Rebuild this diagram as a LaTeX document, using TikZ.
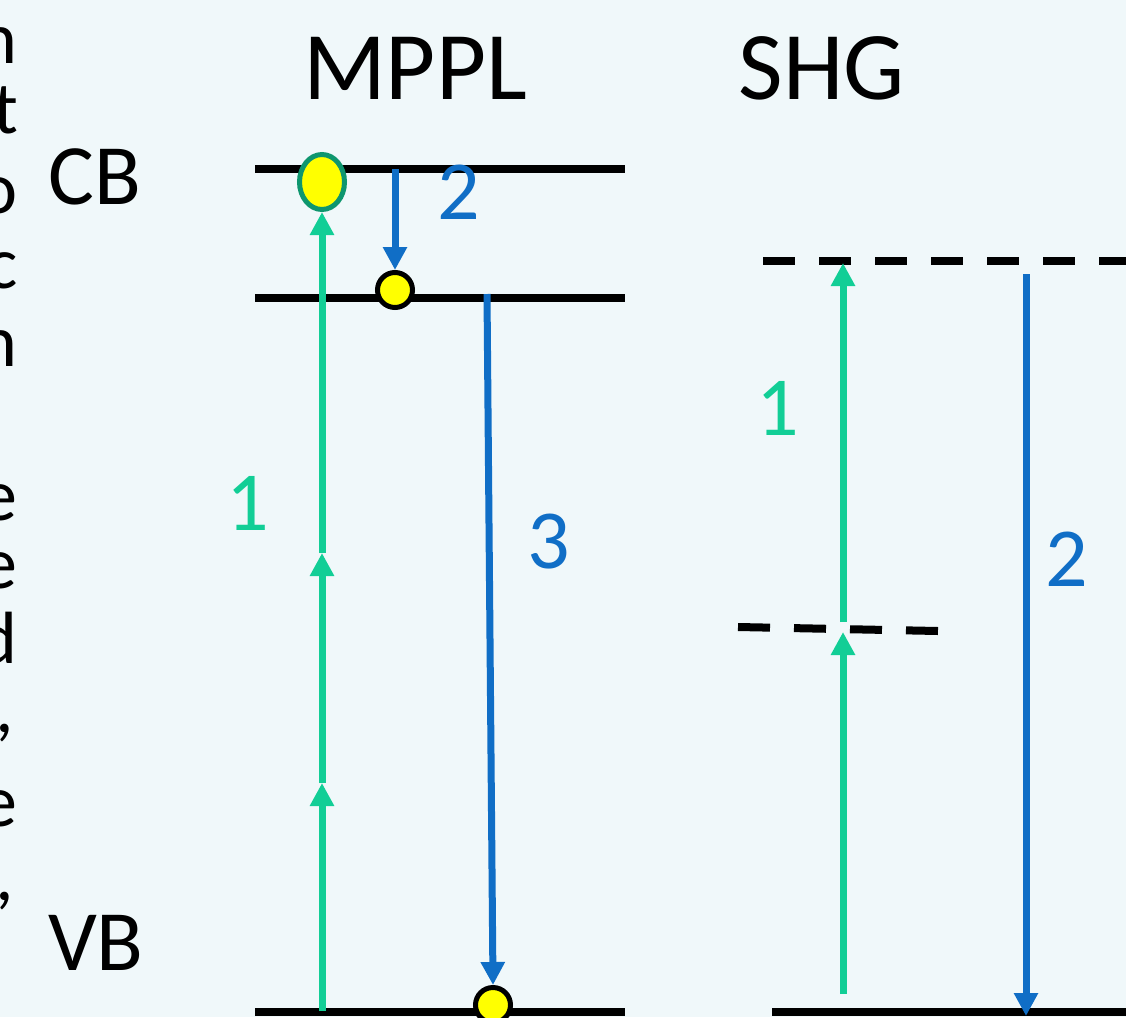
\documentclass[tikz,border=0pt]{standalone}
\usepackage{fontspec}
\setmainfont{Carlito}
\usetikzlibrary{arrows.meta,shapes.geometric}
\definecolor{bgc}{RGB}{240,248,250}
\definecolor{grn}{RGB}{18,206,150}
\definecolor{dgrn}{RGB}{14,150,110}
\definecolor{blu}{RGB}{16,110,198}
\definecolor{yel}{RGB}{255,255,0}
\tikzset{
  lvl/.style={line width=7.5pt,black},
  dlvl/.style={line width=8pt,black,dash pattern=on 32pt off 24pt},
  garrow/.style={line width=7pt,grn,-{Triangle[length=23pt,width=23pt]}},
  barrow/.style={line width=7pt,blu,-{Triangle[length=23pt,width=23pt]}},
  title/.style={font=\fontsize{97}{107}\selectfont,anchor=base,inner sep=0pt},
  band/.style={font=\fontsize{86}{96}\selectfont,anchor=base,inner sep=0pt},
  num/.style={font=\fontsize{84}{94}\selectfont,anchor=base,inner sep=0pt},
  side/.style={font=\fontsize{74}{80}\selectfont,anchor=base east,inner sep=0pt},
  elec/.style={circle,draw=black,fill=yel,line width=5pt,minimum size=35pt,inner sep=0pt},
  belec/.style={ellipse,draw=dgrn,fill=yel,line width=5pt,minimum width=45pt,minimum height=55pt,inner sep=0pt}
}
\begin{document}
\begin{tikzpicture}[x=1pt,y=-1pt]
\useasboundingbox (0,0) rectangle (1126,1017);
\fill[bgc] (0,0) rectangle (1126,1017);

% cut-off text at the left edge
\node[side] (s1) at (18,63) {n};
\node[side] (s2) at (18,133) {t};
\node[side] (s3) at (18,213) {o};
\node[side] (s4) at (18,288) {c};
\node[side] (s5) at (18,366) {n};
\node[side] (s6) at (18,520) {e};
\node[side] (s7) at (18,588) {e};
\node[side] (s8) at (18,663) {d};
\node[side] (s9) at (14,732) {,};
\node[side] (s10) at (18,826) {e};
\node[side] (s11) at (14,900) {,};

% titles and band labels
\node[title] (tmppl) at (415,99) {MPPL};
\node[title] (tshg) at (822,99) {SHG};
\node[band] (tcb) at (95,204) {CB};
\node[band] (tvb) at (96,970) {VB};

% MPPL levels
\coordinate (cbL) at (255,169);
\coordinate (cbR) at (625,169);
\coordinate (mlL) at (255,298);
\coordinate (mlR) at (625,298);
\coordinate (vbL) at (255,1012);
\coordinate (vbR) at (625,1012);
\draw[lvl] (cbL) -- (cbR);
\draw[lvl] (mlL) -- (mlR);
\draw[lvl] (vbL) -- (vbR);

% electrons
\node[belec] (e1) at (322,182) {};
\node[elec] (e2) at (395,290) {};
\node[elec] (e3) at (493,1005) {};

% green multiphoton excitation
\coordinate (g0) at (322,1011);
\coordinate (g1) at (322,783);
\coordinate (g2) at (322,553);
\draw[garrow] (g0) -- (g1);
\draw[garrow] (g1) -- (g2);
\draw[garrow] (g2) -- (e1.south);

% blue relaxation and emission
\coordinate (b2s) at (395,169);
\draw[barrow] (b2s) -- (e2.north);
\coordinate (b3s) at (487,294);
\draw[barrow] (b3s) -- (e3.north);

\node[num,text=grn] (n1) at (248,530) {1};
\node[num,text=blu] (n2) at (459,219) {2};
\node[num,text=blu] (n3) at (549,568) {3};

% SHG levels
\coordinate (sbL) at (772,1012);
\coordinate (sbR) at (1126,1012);
\draw[lvl] (sbL) -- (sbR);
\coordinate (vtL) at (763,261);
\coordinate (vtR) at (1130,261);
\draw[dlvl] (vtL) -- (vtR);
\coordinate (vmL) at (738,627);
\coordinate (vmR) at (938,631);
\draw[dlvl] (vmL) -- (vmR);

\coordinate (sg0) at (843,994);
\coordinate (sg1) at (843,632);
\coordinate (sg2) at (843,622);
\coordinate (sg3) at (843,263);
\draw[garrow] (sg0) -- (sg1);
\draw[garrow] (sg2) -- (sg3);
\coordinate (sb0) at (1026,274);
\coordinate (sb1) at (1026,1016);
\draw[barrow] (sb0) -- (sb1);

\node[num,text=grn] (m1) at (778,435) {1};
\node[num,text=blu] (m2) at (1067,586) {2};
\end{tikzpicture}
\end{document}
